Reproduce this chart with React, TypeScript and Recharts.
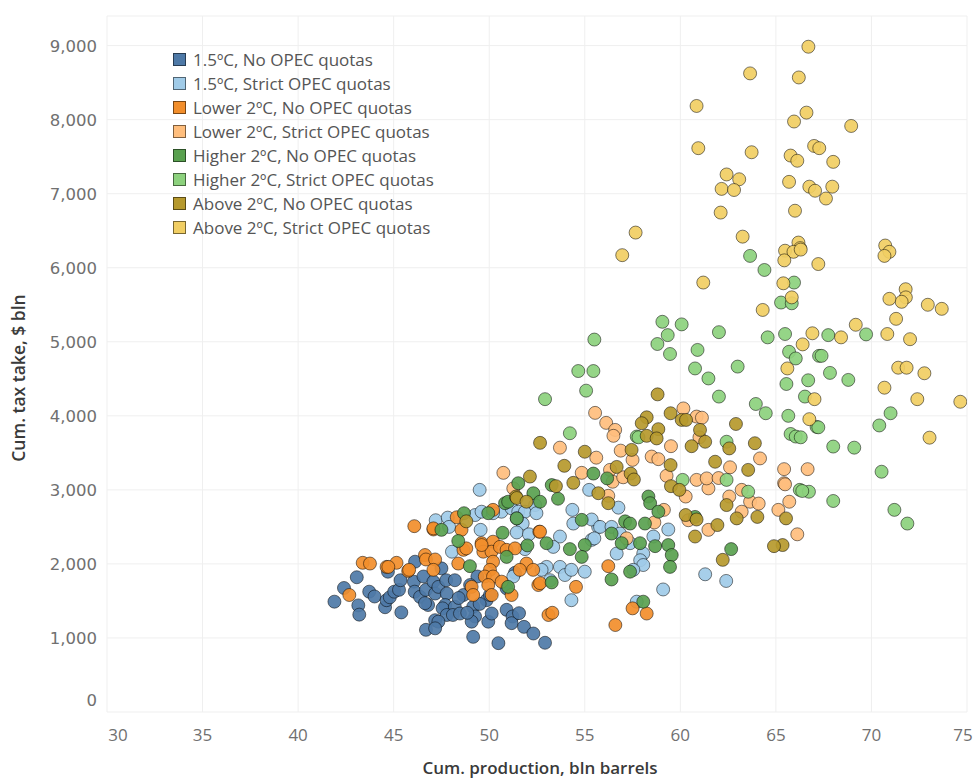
import React from 'react';
import { ScatterChart, Scatter, XAxis, YAxis, CartesianGrid, Label } from 'recharts';

const seriesNames = [
  '1.5ºC, No OPEC quotas',
  '1.5ºC, Strict OPEC quotas',
  'Lower 2ºC, No OPEC quotas',
  'Lower 2ºC, Strict OPEC quotas',
  'Higher 2ºC, No OPEC quotas',
  'Higher 2ºC, Strict OPEC quotas',
  'Above 2ºC, No OPEC quotas',
  'Above 2ºC, Strict OPEC quotas',
];

const seriesColors = ['#4e79a7', '#a0cbe8', '#f28e2b', '#ffbe7d', '#59a14f', '#8cd17d', '#b6992d', '#f1ce63'];

const s15No: [number, number][] = [
  [41.9,1490],[42.4,1675],[43.07,1820],[43.15,1440],[43.2,1315],[43.72,1625],[44.0,1560],[44.7,1895],[44.55,1415],[44.63,1510],
  [44.8,1550],[45.03,1625],[45.28,1650],[45.36,1780],[45.4,1345],[46.12,2030],[46.06,1760],[46.56,1830],[46.1,1625],[46.38,1555],
  [46.69,1650],[46.8,1445],[47.08,1760],[47.17,1600],[47.34,1690],[47.5,1940],[47.75,1780],[47.78,1600],[48.2,1780],[47.7,1445],
  [47.56,1400],[48.2,1420],[47.78,1310],[48.1,1310],[48.47,1330],[48.65,1580],[49.16,1420],[49.26,1290],[49.08,1220],[49.16,1015],
  [47.17,1240],[46.69,1110],[47.34,1220],[47.17,1130],[49.38,1830],[49.86,1510],[49.95,1220],[50.13,1330],[50.48,930],[50.91,1670],
  [50.91,1380],[51.22,1290],[51.17,1200],[51.82,1150],[52.31,1060],[52.92,935],[48.4,1540],[49.0,1715],[50.04,1580],[49.5,1460],
  [51.56,1335],[51.35,1880],[48.85,1340],[46.64,1470],
];

const s15Strict: [number, number][] = [
  [49.5,3000],[47.2,2590],[47.83,2625],[47.9,2500],[49.26,2660],[49.6,2705],[50.64,2705],[51.17,2750],[51.52,2705],[51.87,2705],
  [51.75,2545],[51.44,2615],[52.4,2795],[49.55,2460],[51.44,2425],[52.08,2400],[48.05,2165],[51.87,2200],[53.7,2370],[54.35,2730],
  [54.4,2545],[55.23,3000],[55.36,2325],[55.7,2500],[55.36,2600],[56.76,2760],[55.8,2500],[56.4,2500],[56.84,2410],[55.5,2345],
  [53.35,2230],[57.37,2280],[56.67,2140],[58.06,2140],[58.59,2370],[59.37,2465],[57.9,2050],[58.06,1985],[57.54,1920],[53.0,1960],
  [53.7,1960],[53.96,1850],[54.3,1920],[55.0,1895],[54.3,1510],[59.1,1655],[57.72,1490],[61.3,1860],[62.4,1770],[51.26,1830],
  [52.74,1920],[53.18,1780],[50.2,2685],[52.47,2685],
];

const sL2No: [number, number][] = [
  [43.38,2015],[43.76,2005],[42.68,1580],[44.63,1960],[45.15,2015],[45.76,1905],[46.08,2510],[46.64,2120],[46.69,2060],[47.08,2465],
  [47.17,2060],[47.08,1920],[48.55,2460],[48.3,2630],[48.65,2190],[48.8,2210],[49.6,2280],[49.69,2165],[50.2,2300],[50.12,2165],
  [50.2,2030],[50.04,1920],[49.77,1830],[50.2,1830],[49.95,1715],[49.08,1690],[49.16,1580],[48.38,2005],[50.56,2230],[50.91,2190],
  [51.35,2210],[50.13,1580],[50.65,1760],[51.17,1580],[51.95,2005],[51.6,1920],[52.3,1920],[52.57,1715],[52.62,2435],[53.1,1310],
  [47.08,2480],[50.2,2730],[49.6,2255],[52.66,2435],[56.23,1970],[54.54,1690],[53.3,1340],[57.5,1400],[58.24,1330],[56.6,1175],
  [52.66,1740],[45.81,1920],[44.72,1960],
];

const sL2Strict: [number, number][] = [
  [55.54,4040],[56.12,3905],[56.59,3810],[56.5,3730],[53.7,3570],[55.6,3435],[56.88,3530],[57.5,3405],[58.5,3450],[58.85,3415],
  [59.51,3590],[60.16,4100],[60.85,3990],[54.84,3230],[56.32,3270],[56.46,3110],[57.01,3170],[59.28,3190],[50.74,3230],[51.26,3020],
  [60.85,3135],[60.28,2910],[61.47,3020],[61.38,3155],[62.6,3305],[62.56,2910],[63.21,2705],[63.65,2840],[64.17,3425],[60.42,2590],
  [61.47,2460],[57.19,2345],[59.14,2730],[58.64,2560],[56.23,2920],[61.13,3975],[61.0,3710],[62.0,3160],[63.21,3000],[64.1,2815],
  [65.13,2730],[65.7,2840],[65.43,3280],[66.66,3280],[65.43,3090],[65.48,3075],[66.12,2400],
];

const sH2No: [number, number][] = [
  [48.68,2685],[47.5,2460],[48.38,2310],[49.95,2685],[50.7,2420],[50.83,2820],[51.52,3090],[52.31,2955],[50.91,2095],[48.99,1970],
  [50.99,1690],[53.27,3065],[55.45,3220],[50.99,2840],[52.66,2840],[51.44,2615],[54.84,2595],[53.0,2280],[54.22,2200],[55.0,2255],
  [56.17,3155],[58.33,2910],[58.42,2820],[58.85,2705],[57.11,2575],[57.37,2545],[58.15,2545],[56.4,2410],[56.93,2280],[57.89,2280],
  [58.68,2240],[59.37,2255],[59.55,2120],[59.46,1960],[54.84,2095],[53.27,1750],[56.4,1790],[57.37,1895],[58.06,1490],[62.66,2200],
  [60.77,2635],[52.0,2250],[53.6,2880],
];

const sH2Strict: [number, number][] = [
  [55.5,5030],[54.66,4605],[55.45,4605],[55.07,4340],[52.92,4225],[54.22,3765],[59.06,5270],[60.07,5235],[59.34,5090],[58.8,4970],
  [59.46,4835],[60.9,4890],[60.77,4640],[57.72,3720],[60.12,3135],[63.65,6160],[64.4,5970],[65.95,5800],[65.27,5530],[65.83,5520],
  [62.02,5130],[64.57,5060],[65.48,5105],[63.0,4665],[61.47,4505],[65.69,4865],[66.04,4775],[65.55,4430],[67.26,4810],[66.69,4480],
  [66.52,4260],[62.02,4260],[63.95,4160],[64.47,4035],[65.65,4000],[65.77,3755],[66.04,3720],[67.13,3850],[57.81,3710],[62.42,3650],
  [66.25,3000],[66.73,2975],[63.55,2975],[62.42,3135],[67.74,5090],[69.72,5100],[67.39,4810],[67.83,4580],[68.79,4485],[67.22,3845],
  [66.3,3710],[68.0,3585],[69.1,3570],[70.41,3870],[71.0,4035],[70.53,3245],[66.38,2985],[68.0,2850],[71.2,2730],[71.88,2545],
];

const sA2No: [number, number][] = [
  [52.66,3635],[58.81,4290],[59.49,4035],[58.24,3980],[57.98,3900],[58.85,3820],[60.07,3945],[60.3,3945],[58.24,3730],[58.76,3695],
  [60.59,3590],[55.0,3515],[57.45,3540],[53.93,3325],[52.13,3180],[54.4,3095],[56.67,3310],[57.4,3220],[57.57,3140],[59.49,3335],
  [59.51,3050],[59.95,3000],[53.49,3050],[51.4,2910],[55.71,2955],[56.23,2820],[61.3,3650],[61.82,3380],[63.55,3270],[63.9,3630],
  [62.42,2795],[62.95,2615],[64.03,2635],[60.77,2370],[61.94,2525],[62.22,2055],[60.28,2660],[60.85,2600],[61.03,3810],[62.91,3890],
  [62.56,3560],[65.53,2615],[65.35,2255],[64.9,2240],[51.44,2890],[51.95,2840],[48.8,2575],
];

const sA2Strict: [number, number][] = [
  [66.7,8985],[63.65,8625],[66.2,8570],[60.85,8185],[66.6,8095],[65.95,7975],[68.94,7915],[60.94,7615],[63.73,7560],[67.0,7645],
  [67.27,7615],[65.77,7515],[66.12,7445],[68.0,7430],[62.42,7260],[63.08,7195],[62.16,7065],[62.81,7050],[65.69,7160],[66.75,7095],
  [67.05,7040],[67.95,7095],[67.62,6935],[62.11,6745],[66.0,6770],[57.66,6475],[56.96,6170],[63.26,6420],[66.18,6340],[66.27,6265],
  [65.48,6230],[65.92,6215],[65.44,6100],[67.22,6050],[70.72,6300],[70.94,6215],[70.68,6160],[65.39,5790],[65.83,5600],[71.79,5710],
  [71.8,5600],[71.58,5540],[70.94,5580],[72.95,5500],[73.68,5445],[71.29,5310],[69.18,5230],[66.91,5115],[68.41,5060],[70.83,5105],
  [72.02,5035],[66.4,4965],[65.6,4640],[71.4,4650],[71.84,4650],[72.77,4575],[70.68,4380],[67.02,4225],[72.4,4225],[74.65,4190],
  [66.75,3955],[73.04,3705],[61.2,5800],[64.31,5430],[66.3,6245],
];

const allSeries = [s15No, s15Strict, sL2No, sL2Strict, sH2No, sH2Strict, sA2No, sA2Strict];

const xTicks = [30, 35, 40, 45, 50, 55, 60, 65, 70, 75];
const yTicks = [0, 1000, 2000, 3000, 4000, 5000, 6000, 7000, 8000, 9000];
const xTitle = 'Cum. production, bln barrels';
const yTitle = 'Cum. tax take, $ bln';

const FONT = '"Open Sans", "DejaVu Sans", sans-serif';
const TICK_FONT_Y = '"DejaVu Sans", "Open Sans", sans-serif';

const fmt = (v: number) => String(v).replace(/\B(?=(\d{3})+(?!\d))/g, ',');

const XTick = (props: any) => {
  const { x, y, payload } = props;
  const v = payload.value;
  const shift = v === xTicks[0] ? 11 : v === xTicks[xTicks.length - 1] ? -4 : 0;
  return (
    <text x={x + shift} y={y + 28.5} textAnchor="middle" fill="#707070" fontSize={17} fontFamily={FONT}>
      {v}
    </text>
  );
};

const YTick = (props: any) => {
  const { x, y, payload } = props;
  const shift = payload.value === 0 ? -12 : 0;
  return (
    <text x={x} y={y + shift + 6} textAnchor="end" fill="#707070" fontSize={16.5} fontFamily={TICK_FONT_Y}>
      {fmt(payload.value)}
    </text>
  );
};

const XTitle = (props: any) => {
  const vb = props.viewBox;
  return (
    <text x={vb.x + vb.width / 2 + 3} y={vb.y + vb.height - 8} textAnchor="middle" fill="#3a3a3a" fontSize={17} fontWeight={600} fontFamily={FONT}>
      {xTitle}
    </text>
  );
};

const YTitle = (props: any) => {
  const vb = props.viewBox;
  const cx = 18;
  const cy = vb.y + vb.height / 2 + 14;
  return (
    <text x={cx} y={cy} transform={`rotate(-90, ${cx}, ${cy})`} textAnchor="middle" dominantBaseline="central" fill="#3a3a3a" fontSize={17.5} fontWeight={600} fontFamily={FONT}>
      {yTitle}
    </text>
  );
};

const makeDot = (color: string) => (props: any) => (
  <circle cx={props.cx} cy={props.cy} r={6.5} fill={color} fillOpacity={0.92} stroke="#000" strokeOpacity={0.5} strokeWidth={1} />
);

export default function App() {
  return (
    <div style={{ position: 'relative', width: 974, height: 782 }}>
      <style>{'body{margin:0;overflow:hidden;}'}</style>
      <ScatterChart width={974} height={782} margin={{ top: 16, right: 7, bottom: 0, left: 0 }}>
        <CartesianGrid stroke="#efefef" strokeWidth={1} />
        <XAxis
          type="number"
          dataKey="x"
          domain={[30, 75]}
          ticks={xTicks}
          height={70}
          tickSize={0}
          tickMargin={0}
          axisLine={false}
          tickLine={false}
          tick={<XTick />}
          interval={0}
          allowDataOverflow
        >
          <Label content={<XTitle />} />
        </XAxis>
        <YAxis
          type="number"
          dataKey="y"
          domain={[0, 9400]}
          ticks={yTicks}
          width={107}
          tickSize={0}
          tickMargin={10}
          axisLine={false}
          tickLine={false}
          tick={<YTick />}
          interval={0}
          allowDataOverflow
        >
          <Label content={<YTitle />} />
        </YAxis>
        {allSeries.map((s, i) => (
          <Scatter
            key={seriesNames[i]}
            name={seriesNames[i]}
            data={s.map(([x, y]) => ({ x, y }))}
            fill={seriesColors[i]}
            shape={makeDot(seriesColors[i])}
            isAnimationActive={false}
          />
        ))}
      </ScatterChart>
      <div style={{ position: 'absolute', left: 173, top: 47, fontFamily: FONT }}>
        {seriesNames.map((n, i) => (
          <div key={n} style={{ display: 'flex', alignItems: 'center', height: 24 }}>
            <div
              style={{
                width: 11,
                height: 11,
                background: seriesColors[i],
                border: '1px solid rgba(0,0,0,0.5)',
                marginRight: 7,
              }}
            />
            <span style={{ fontSize: 17, color: '#555', whiteSpace: 'nowrap' }}>{n}</span>
          </div>
        ))}
      </div>
    </div>
  );
}
